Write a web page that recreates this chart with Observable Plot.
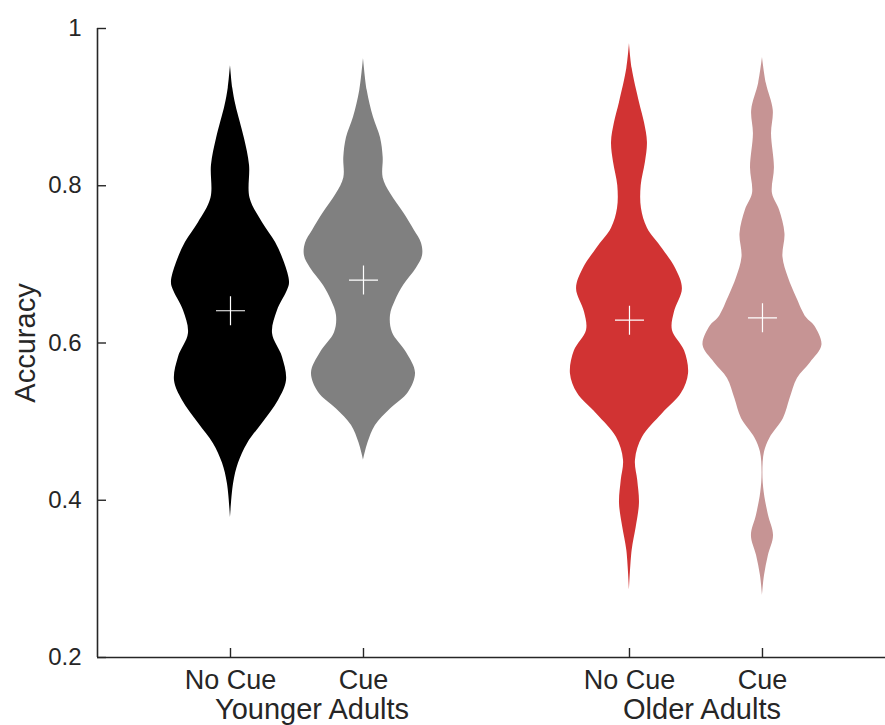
<!DOCTYPE html>
<html>
<head>
<meta charset="utf-8">
<script src="https://cdn.jsdelivr.net/npm/d3@7"></script>
<script src="https://cdn.jsdelivr.net/npm/@observablehq/plot@0.6"></script>
<style>
  html, body { margin: 0; padding: 0; background: #fff; }
</style>
</head>
<body>
<div id="chart"></div>
<script>
// ---- Data ----
const positions = [1, 2, 4, 5];
const conditionLabels = ["No Cue", "Cue", "No Cue", "Cue"];
const groupLabels = ["Younger Adults", "Older Adults"];
const yTicks = [0.2, 0.4, 0.6, 0.8, 1];
const yTickLabels = ["0.2", "0.4", "0.6", "0.8", "1"];
const yLabel = "Accuracy";
const means = [0.641, 0.680, 0.629, 0.632];
const colors = ["#000000", "#808080", "#d13333", "#c69494"];

// Violin outlines: accuracy levels and half-width of the density at each level
const youngNoCueLevels = [0.953, 0.924, 0.902, 0.860, 0.826, 0.784, 0.753, 0.728, 0.702, 0.677, 0.667, 0.641, 0.612, 0.582, 0.552, 0.527, 0.498, 0.472, 0.447, 0.421, 0.378];
const youngNoCueHalfWidth = [0, 0.017, 0.041, 0.105, 0.143, 0.147, 0.241, 0.338, 0.406, 0.444, 0.429, 0.353, 0.316, 0.391, 0.421, 0.361, 0.241, 0.128, 0.060, 0.023, 0];

const youngCueLevels = [0.962, 0.921, 0.887, 0.861, 0.836, 0.810, 0.790, 0.764, 0.743, 0.727, 0.711, 0.695, 0.673, 0.654, 0.635, 0.613, 0.588, 0.562, 0.537, 0.516, 0.495, 0.473, 0.451];
const youngCueHalfWidth = [0, 0.028, 0.075, 0.128, 0.148, 0.148, 0.203, 0.308, 0.383, 0.436, 0.444, 0.398, 0.301, 0.241, 0.203, 0.218, 0.323, 0.391, 0.338, 0.203, 0.090, 0.034, 0];

const oldNoCueLevels = [0.981, 0.949, 0.906, 0.880, 0.855, 0.830, 0.800, 0.771, 0.746, 0.720, 0.695, 0.669, 0.639, 0.616, 0.590, 0.561, 0.536, 0.510, 0.480, 0.451, 0.425, 0.396, 0.365, 0.336, 0.285];
const oldNoCueHalfWidth = [0, 0.020, 0.075, 0.113, 0.135, 0.120, 0.088, 0.090, 0.135, 0.248, 0.346, 0.398, 0.338, 0.323, 0.414, 0.444, 0.391, 0.248, 0.098, 0.045, 0.062, 0.075, 0.050, 0.020, 0];

const oldCueLevels = [0.963, 0.930, 0.896, 0.866, 0.823, 0.790, 0.769, 0.739, 0.709, 0.683, 0.658, 0.632, 0.622, 0.597, 0.575, 0.555, 0.529, 0.504, 0.479, 0.461, 0.435, 0.410, 0.381, 0.355, 0.330, 0.304, 0.279];
const oldCueHalfWidth = [0, 0.029, 0.081, 0.068, 0.090, 0.075, 0.128, 0.169, 0.154, 0.195, 0.256, 0.331, 0.391, 0.447, 0.361, 0.263, 0.207, 0.158, 0.056, 0.015, 0.003, 0.013, 0.045, 0.083, 0.045, 0.015, 0];

const violinLevels = [youngNoCueLevels, youngCueLevels, oldNoCueLevels, oldCueLevels];
const violinHalfWidths = [youngNoCueHalfWidth, youngCueHalfWidth, oldNoCueHalfWidth, oldCueHalfWidth];

// ---- Build chart ----
const axisColor = "#262626";
const font = "'Liberation Sans', Arial, Helvetica, sans-serif";

const thinCross = {
  draw(context, size) {
    const r = Math.sqrt(size / Math.PI);
    context.moveTo(-r, 0); context.lineTo(r, 0);
    context.moveTo(0, -r); context.lineTo(0, r);
  }
};

const marks = [];
violinLevels.forEach((levels, i) => {
  const rows = levels.map((v, j) => ({
    v,
    lo: positions[i] - violinHalfWidths[i][j],
    hi: positions[i] + violinHalfWidths[i][j]
  }));
  marks.push(Plot.areaX(rows, {y: "v", x1: "lo", x2: "hi", fill: colors[i], curve: "catmull-rom"}));
});

const meanRows = positions.map((p, i) => ({x: p, y: means[i]}));
marks.push(Plot.dot(meanRows, {x: "x", y: "y", r: 14.5, symbol: thinCross, stroke: "white", fill: "none", strokeWidth: 1.2}));

// axis lines
marks.push(Plot.ruleX([0], {y1: yTicks[0], y2: yTicks[yTicks.length - 1], stroke: axisColor, strokeWidth: 1.6}));
marks.push(Plot.ruleY([yTicks[0]], {stroke: axisColor, strokeWidth: 1.6}));

// inward ticks
marks.push(Plot.tickY(yTicks, {y: d => d, stroke: axisColor, strokeWidth: 1.4, insetRight: 788 - 9}));
marks.push(Plot.tickX(positions, {x: d => d, stroke: axisColor, strokeWidth: 1.4, insetTop: 629 - 9}));

// tick labels
marks.push(Plot.axisY({ticks: yTicks, tickFormat: d => yTickLabels[yTicks.indexOf(d)], tickSize: 0, tickPadding: 16, fontSize: 24, label: null, color: axisColor}));
marks.push(Plot.axisX({ticks: positions, tickFormat: d => conditionLabels[positions.indexOf(d)], tickSize: 0, tickPadding: 12, fontSize: 27, label: null, color: axisColor}));

// group labels
marks.push(Plot.text([groupLabels[0]], {x: d3.mean(positions.slice(0, 2)), y: yTicks[0], dx: 15, dy: 52, fontSize: 29, fill: axisColor, clip: false}));
marks.push(Plot.text([groupLabels[1]], {x: d3.mean(positions.slice(2, 4)), y: yTicks[0], dx: 6, dy: 52, fontSize: 29, fill: axisColor, clip: false}));

// y label
marks.push(Plot.text([yLabel], {frameAnchor: "left", textAnchor: "middle", rotate: -90, dx: -72, fontSize: 29, fill: axisColor}));

const chart = Plot.plot({
  width: 885,
  height: 725,
  marginLeft: 97,
  marginRight: 0,
  marginTop: 28,
  marginBottom: 68,
  style: {fontFamily: font, background: "#fff", overflow: "visible"},
  x: {domain: [0, 5.925]},
  y: {domain: [0.2, 1]},
  marks
});
document.getElementById("chart").appendChild(chart);
</script>
</body>
</html>
